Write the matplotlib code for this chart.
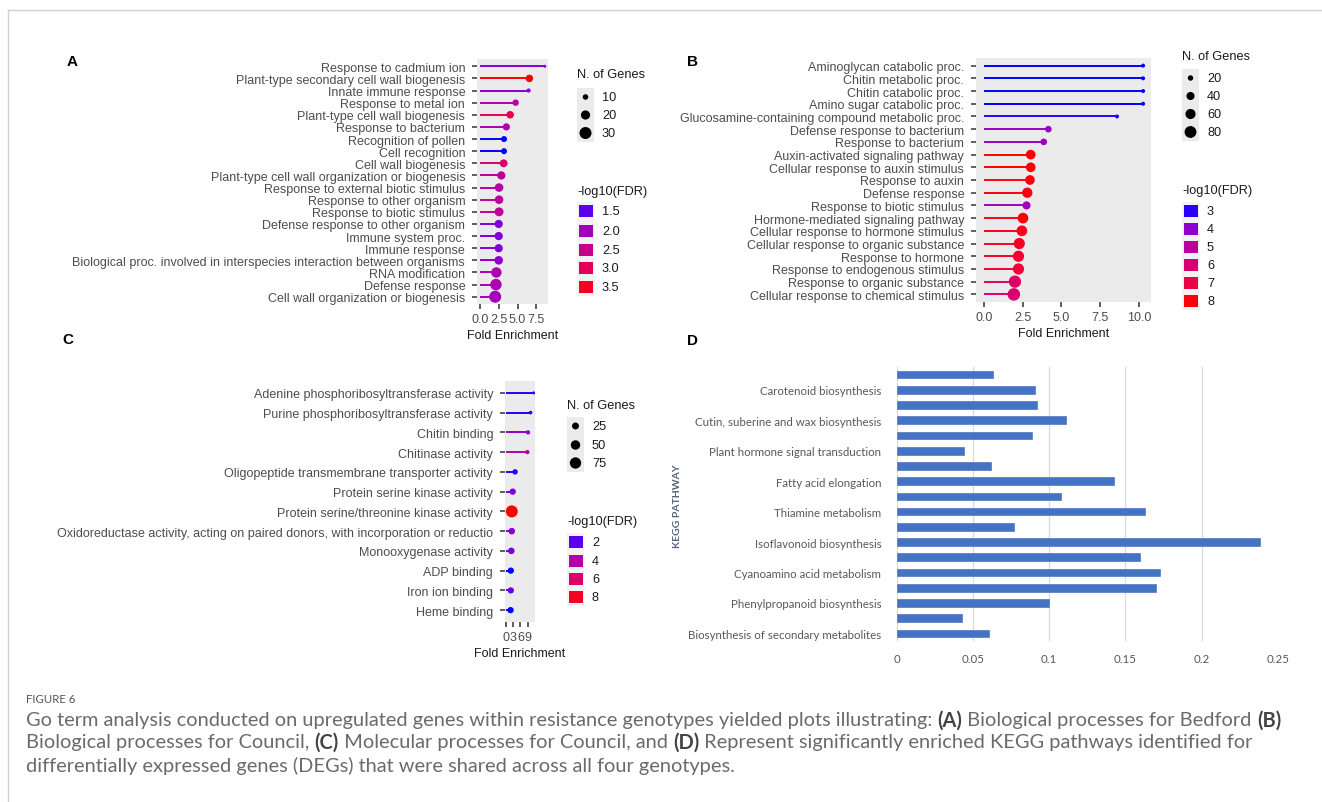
import matplotlib
matplotlib.use("Agg")
import matplotlib.pyplot as plt
import numpy as np
from matplotlib.colors import ListedColormap, Normalize
from matplotlib.patches import Rectangle

plt.rcParams["font.family"] = ["Liberation Sans", "DejaVu Sans"]

W, H = 1322, 803

# ---- panel A: biological processes, Bedford
a_terms = ["Response to cadmium ion", "Plant-type secondary cell wall biogenesis",
           "Innate immune response", "Response to metal ion", "Plant-type cell wall biogenesis",
           "Response to bacterium", "Recognition of pollen", "Cell recognition",
           "Cell wall biogenesis", "Plant-type cell wall organization or biogenesis",
           "Response to external biotic stimulus", "Response to other organism",
           "Response to biotic stimulus", "Defense response to other organism",
           "Immune system proc.", "Immune response",
           "Biological proc. involved in interspecies interaction between organisms",
           "RNA modification", "Defense response", "Cell wall organization or biogenesis"]
a_fold = [8.63, 6.57, 6.47, 4.73, 4.0, 3.49, 3.18, 3.18, 3.13, 2.82,
          2.52, 2.52, 2.52, 2.47, 2.47, 2.47, 2.47, 2.16, 2.1, 2.0]
a_genes = [5, 15, 7, 12, 15, 14, 11, 11, 16, 17, 18, 18, 19, 17, 17, 17, 18, 24, 28, 30]
a_fdr = [1.7, 3.7, 1.7, 2.2, 3.1, 2.1, 1.3, 1.3, 2.8, 2.3,
         2.2, 2.3, 2.4, 1.7, 1.7, 1.7, 1.8, 2.1, 2.1, 2.0]

# ---- panel B: biological processes, Council
b_terms = ["Aminoglycan catabolic proc.", "Chitin metabolic proc.", "Chitin catabolic proc.",
           "Amino sugar catabolic proc.", "Glucosamine-containing compound metabolic proc.",
           "Defense response to bacterium", "Response to bacterium",
           "Auxin-activated signaling pathway", "Cellular response to auxin stimulus",
           "Response to auxin", "Defense response", "Response to biotic stimulus",
           "Hormone-mediated signaling pathway", "Cellular response to hormone stimulus",
           "Cellular response to organic substance", "Response to hormone",
           "Response to endogenous stimulus", "Response to organic substance",
           "Cellular response to chemical stimulus"]
b_fold = [10.27, 10.27, 10.27, 10.27, 8.59, 4.16, 3.86, 3.02, 3.02, 2.97,
          2.80, 2.75, 2.52, 2.45, 2.28, 2.23, 2.23, 2.0, 1.93]
b_genes = [12, 12, 12, 12, 12, 28, 28, 55, 55, 55, 62, 40, 66, 66, 72, 72, 72, 85, 88]
b_fdr = [2.9, 2.9, 2.9, 2.9, 3.0, 4.2, 4.2, 8.1, 8.1, 8.0, 7.9, 4.3, 8.0, 7.8,
         7.6, 7.5, 7.3, 6.3, 6.1]

# ---- panel C: molecular processes, Council
c_terms = ["Adenine phosphoribosyltransferase activity", "Purine phosphoribosyltransferase activity",
           "Chitin binding", "Chitinase activity", "Oligopeptide transmembrane transporter activity",
           "Protein serine kinase activity", "Protein serine/threonine kinase activity",
           "Oxidoreductase activity, acting on paired donors, with incorporation or reductio",
           "Monooxygenase activity", "ADP binding", "Iron ion binding", "Heme binding"]
c_fold = [11.6, 10.3, 9.2, 8.9, 3.7, 2.7, 2.3, 2.3, 2.1, 1.9, 1.9, 1.8]
c_genes = [3, 5, 8, 8, 14, 20, 85, 22, 22, 20, 20, 20]
c_fdr = [1.6, 1.6, 3.0, 4.2, 1.6, 2.6, 8.6, 2.8, 2.5, 1.5, 2.2, 1.5]

# ---- panel D: KEGG pathways (top to bottom)
d_labels = ["", "Carotenoid biosynthesis", "", "Cutin, suberine and wax biosynthesis", "",
            "Plant hormone signal transduction", "", "Fatty acid elongation", "",
            "Thiamine metabolism", "", "Isoflavonoid biosynthesis", "",
            "Cyanoamino acid metabolism", "", "Phenylpropanoid biosynthesis", "",
            "Biosynthesis of secondary metabolites"]
d_values = [0.0634, 0.0909, 0.0922, 0.111, 0.0885, 0.0439, 0.0616, 0.1427, 0.1076,
            0.1628, 0.0769, 0.2381, 0.1594, 0.1726, 0.1699, 0.1002, 0.0431, 0.0605]


# ggplot-like blue -> red gradient interpolated in Lab
M = np.array([[0.4124, 0.3576, 0.1805], [0.2126, 0.7152, 0.0722], [0.0193, 0.1192, 0.9505]])
WHITE = np.array([0.95047, 1.0, 1.08883])


def to_lab(rgb):
    c = np.asarray(rgb, float)
    lin = np.where(c <= 0.04045, c / 12.92, ((c + 0.055) / 1.055) ** 2.4)
    xyz = M @ lin / WHITE
    f = np.where(xyz > 0.008856, np.cbrt(xyz), 7.787 * xyz + 16 / 116)
    return np.array([116 * f[1] - 16, 500 * (f[0] - f[1]), 200 * (f[1] - f[2])])


def from_lab(lab):
    fy = (lab[0] + 16) / 116
    f = np.array([fy + lab[1] / 500, fy, fy - lab[2] / 200])
    xyz = np.where(f ** 3 > 0.008856, f ** 3, (f - 16 / 116) / 7.787) * WHITE
    lin = np.clip(np.linalg.inv(M) @ xyz, 0, 1)
    c = np.where(lin <= 0.0031308, 12.92 * lin, 1.055 * lin ** (1 / 2.4) - 0.055)
    return np.clip(c, 0, 1)


lab0, lab1 = to_lab([0, 0, 1]), to_lab([1, 0, 0])
cmap = ListedColormap([from_lab(lab0 + t * (lab1 - lab0)) for t in np.linspace(0, 1, 256)])

fig = plt.figure(figsize=(W / 100, H / 100), dpi=100)
ov = fig.add_axes([0, 0, 1, 1], zorder=10)
ov.set_xlim(0, W)
ov.set_ylim(H, 0)
ov.axis("off")
ov.patch.set_alpha(0)


def px_rect(x0, y0, x1, y1):
    return [x0 / W, 1 - y1 / H, (x1 - x0) / W, (y1 - y0) / H]


def dot_size(n, glim, drange):
    t = (np.sqrt(np.asarray(n, float)) - np.sqrt(glim[0])) / (np.sqrt(glim[1]) - np.sqrt(glim[0]))
    d = drange[0] + t * (drange[1] - drange[0])
    return (d * 0.72) ** 2


def lollipop(rect, terms, fold, genes, fdr, xlim, xticks, xtl, flim, glim, drange, fs=9):
    ax = fig.add_axes(px_rect(*rect))
    ax.set_facecolor("#EBEBEB")
    norm = Normalize(*flim)
    cols = cmap(norm(np.array(fdr)))
    y = np.arange(len(terms))
    ax.hlines(y, 0, fold, colors=cols, lw=1.4, zorder=2)
    ax.scatter(fold, y, s=dot_size(genes, glim, drange), c=cols, linewidths=0, zorder=3)
    ax.set_xlim(*xlim)
    ax.set_ylim(len(terms) - 0.4, -0.6)
    ax.set_yticks(y)
    ax.set_yticklabels(terms, fontsize=fs, color="#4D4D4D")
    ax.set_xticks(xticks)
    ax.set_xticklabels(xtl, fontsize=fs, color="#4D4D4D")
    ax.tick_params(length=3.5, width=1.1, color="#333333", pad=3)
    ax.tick_params(axis="y", pad=5)
    for s in ax.spines.values():
        s.set_visible(False)
    ax.set_xlabel("Fold Enrichment", fontsize=9, color="#1A1A1A", labelpad=3)
    return norm


def legend(x, yt1, gkeys, gys, yt2, fkeys, fys, glim, drange, norm, ftl):
    ov.text(x, yt1, "N. of Genes", fontsize=9.2, color="#1A1A1A", va="center")
    ov.add_patch(Rectangle((x, gys[0] - 9), 17, gys[-1] - gys[0] + 18, color="#EBEBEB", lw=0))
    ov.scatter([x + 8.5] * len(gkeys), gys, s=dot_size(gkeys, glim, drange), c="black",
               linewidths=0, zorder=3)
    for k, yy in zip(gkeys, gys):
        ov.text(x + 25, yy, str(k), fontsize=9.2, color="#1A1A1A", va="center")
    ov.text(x, yt2, "-log10(FDR)", fontsize=9.2, color="#1A1A1A", va="center")
    ov.add_patch(Rectangle((x, fys[0] - 9), 17, fys[-1] - fys[0] + 18, color="#F2F2F2", lw=0))
    for k, yy, lab in zip(fkeys, fys, ftl):
        ov.add_patch(Rectangle((x + 1.5, yy - 6), 14, 12, color=cmap(norm(k)), lw=0))
        ov.text(x + 25, yy, lab, fontsize=9.2, color="#1A1A1A", va="center")


# panel A
na = lollipop((477, 60, 548, 305), a_terms, a_fold, a_genes, a_fdr, (-0.43, 9.06),
              [0, 2.5, 5, 7.5], ["0.0", "2.5", "5.0", "7.5"], (1.3, 3.7), (5, 30), (3, 12))
legend(577, 75, [10, 20, 30], [98, 116, 134], 192, [1.5, 2.0, 2.5, 3.0, 3.5],
       [212, 232, 251, 269, 288], (5, 30), (3, 12), na, ["1.5", "2.0", "2.5", "3.0", "3.5"])

# panel B
nb = lollipop((976, 59, 1151, 303), b_terms, b_fold, b_genes, b_fdr, (-0.51, 10.78),
              [0, 2.5, 5, 7.5, 10], ["0.0", "2.5", "5.0", "7.5", "10.0"], (2.9, 8.1),
              (12, 88), (4, 12.5))
legend(1182, 57, [20, 40, 60, 80], [79, 97, 115, 133], 191, [3, 4, 5, 6, 7, 8],
       [212, 230, 248, 266, 284, 302], (12, 88), (4, 12.5), nb, ["3", "4", "5", "6", "7", "8"])

# panel C
nc = lollipop((505, 382, 535, 623), c_terms, c_fold, c_genes, c_fdr, (-0.58, 12.18),
              [0, 3, 6, 9], ["0", "3", "6", "9"], (1.5, 8.6), (3, 85), (3, 12))
legend(567, 406, [25, 50, 75], [427, 446, 464], 522, [2, 4, 6, 8], [543, 562, 580, 598],
       (3, 85), (3, 12), nc, ["2", "4", "6", "8"])

# panel D
axd = fig.add_axes(px_rect(896.6, 368, 1278, 642))
yd = np.arange(len(d_labels))
axd.barh(yd, d_values, height=0.5, color="#4472C4", edgecolor="#3D67B4", lw=0.4, zorder=3)
axd.set_xlim(0, 0.25)
axd.set_ylim(len(d_labels) - 0.5, -0.5)
axd.set_xticks([0, 0.05, 0.1, 0.15, 0.2, 0.25])
axd.set_xticklabels(["0", "0.05", "0.1", "0.15", "0.2", "0.25"], fontsize=8.3, color="#595959",
                    family=["Lato", "DejaVu Sans"])
axd.set_yticks(yd)
axd.set_yticklabels(d_labels, fontsize=8.3, color="#595959", family=["Lato", "DejaVu Sans"])
axd.tick_params(length=0, pad=9)
axd.tick_params(axis="y", pad=11)
axd.grid(axis="x", color="#D9D9D9", lw=0.9, zorder=0)
for s in axd.spines.values():
    s.set_visible(False)
ov.text(678, 506, "KEGG PATHWAY", rotation=90, fontsize=7.5, fontweight="bold", color="#56607A",
        ha="center", va="center", family=["Lato", "DejaVu Sans"])

# panel letters
for lab, (lx, ly) in {"A": (72, 62), "B": (693, 62), "C": (68, 340), "D": (693, 341)}.items():
    ov.text(lx, ly, lab, fontsize=11, fontweight="bold", color="black", ha="center", va="center")

# frame
ov.plot([9, W], [11, 11], color="#CFCFCF", lw=1)
ov.plot([8, 8], [11, H], color="#CFCFCF", lw=1)

# caption
cap_font = dict(family=["Lato", "DejaVu Sans"], fontsize=14.4, va="center")
ov.text(26, 700, "FIGURE 6", color="#555555", family=["Lato", "DejaVu Sans"], fontsize=8.2,
        va="center")
renderer = fig.canvas.get_renderer()


def seg_width(s, weight):
    a = ov.text(0, 0, "x" + s + "x", fontweight=weight, **cap_font)
    b = ov.text(0, 0, "xx", fontweight=weight, **cap_font)
    w = a.get_window_extent(renderer).width - b.get_window_extent(renderer).width
    a.remove()
    b.remove()
    return w


cap_lines = [
    [("Go term analysis conducted on upregulated genes within resistance genotypes yielded plots "
      "illustrating: ", "normal"), ("(A)", "bold"), (" Biological processes for Bedford ", "normal"),
     ("(B)", "bold")],
    [("Biological processes for Council, ", "normal"), ("(C)", "bold"),
     (" Molecular processes for Council, and ", "normal"), ("(D)", "bold"),
     (" Represent significantly enriched KEGG pathways identified for", "normal")],
    [("differentially expressed genes (DEGs) that were shared across all four genotypes.", "normal")],
]
for line, yy in zip(cap_lines, [721, 743, 766]):
    xx = 26
    for s, wgt in line:
        col = "#444444" if wgt == "bold" else "#6A6A6A"
        ov.text(xx, yy, s, fontweight=wgt, color=col, **cap_font)
        xx += seg_width(s, wgt)

fig.savefig("out.png", dpi=100)
